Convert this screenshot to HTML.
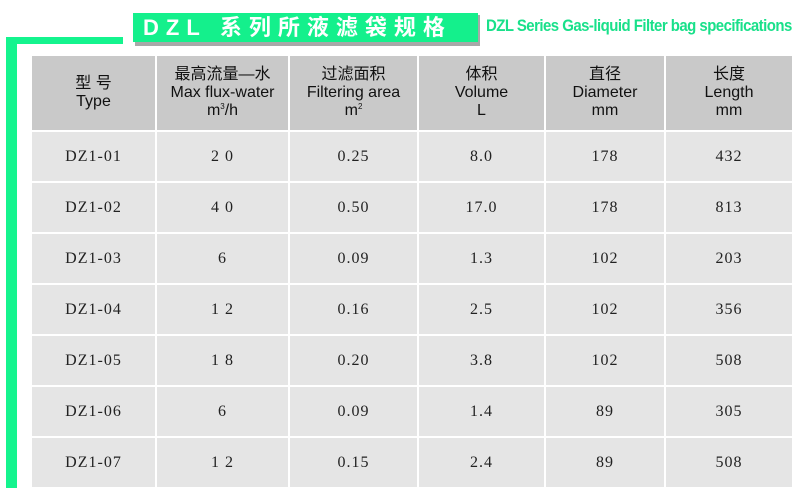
<!DOCTYPE html>
<html><head><meta charset="utf-8"><style>
body{margin:0;width:800px;height:497px;background:#fff;position:relative;overflow:hidden;font-family:"Liberation Sans","Noto Sans CJK SC",sans-serif}
.a{position:absolute}
table{position:absolute;left:30px;top:54px;width:762px;border-collapse:collapse;table-layout:fixed}
td{border:2px solid #fff;text-align:center;color:#222;padding:0}
tr.h td{background:#c9c9c9;height:74px;font-size:16px;line-height:18px;color:#111}
tr.r td{background:#e5e5e5;height:49px;font-family:"Liberation Serif","Noto Serif CJK SC",serif;font-size:16px;letter-spacing:1px;vertical-align:middle}
sup{font-size:8px;vertical-align:6px;line-height:0}
</style></head><body>
<div class="a" style="left:6px;top:37px;width:117px;height:7px;background:#14f48e"></div>
<div class="a" style="left:6px;top:37px;width:11px;height:451px;background:#14f48e"></div>
<div class="a" style="left:135px;top:15px;width:345px;height:31px;background:#a8a8a8"></div>
<div class="a" style="left:133px;top:13px;width:345px;height:29px;background:#14f08c;color:#fff;font-weight:bold;font-size:22px;line-height:29px;letter-spacing:7px;padding-left:10px;box-sizing:border-box;white-space:nowrap">DZL&nbsp;系列所液滤袋规格</div>
<div class="a" style="left:486px;top:16px;color:#19e08a;font-weight:bold;font-size:17px;letter-spacing:-0.6px;white-space:nowrap;transform:scaleX(0.88);transform-origin:left">DZL Series Gas-liquid Filter bag specifications</div>
<table>
<colgroup><col style="width:125px"><col style="width:133px"><col style="width:129px"><col style="width:127px"><col style="width:120px"><col style="width:128px"></colgroup>
<tr class="h"><td>型 号<br>Type</td><td>最高流量—水<br>Max flux-water<br>m<sup>3</sup>/h</td><td>过滤面积<br>Filtering area<br>m<sup>2</sup></td><td>体积<br>Volume<br>L</td><td>直径<br>Diameter<br>mm</td><td>长度<br>Length<br>mm</td></tr>
<tr class="r"><td>DZ1-01</td><td>2 0</td><td>0.25</td><td>8.0</td><td>178</td><td>432</td></tr>
<tr class="r"><td>DZ1-02</td><td>4 0</td><td>0.50</td><td>17.0</td><td>178</td><td>813</td></tr>
<tr class="r"><td>DZ1-03</td><td>6</td><td>0.09</td><td>1.3</td><td>102</td><td>203</td></tr>
<tr class="r"><td>DZ1-04</td><td>1 2</td><td>0.16</td><td>2.5</td><td>102</td><td>356</td></tr>
<tr class="r"><td>DZ1-05</td><td>1 8</td><td>0.20</td><td>3.8</td><td>102</td><td>508</td></tr>
<tr class="r"><td>DZ1-06</td><td>6</td><td>0.09</td><td>1.4</td><td>89</td><td>305</td></tr>
<tr class="r"><td>DZ1-07</td><td>1 2</td><td>0.15</td><td>2.4</td><td>89</td><td>508</td></tr>
</table>
</body></html>
